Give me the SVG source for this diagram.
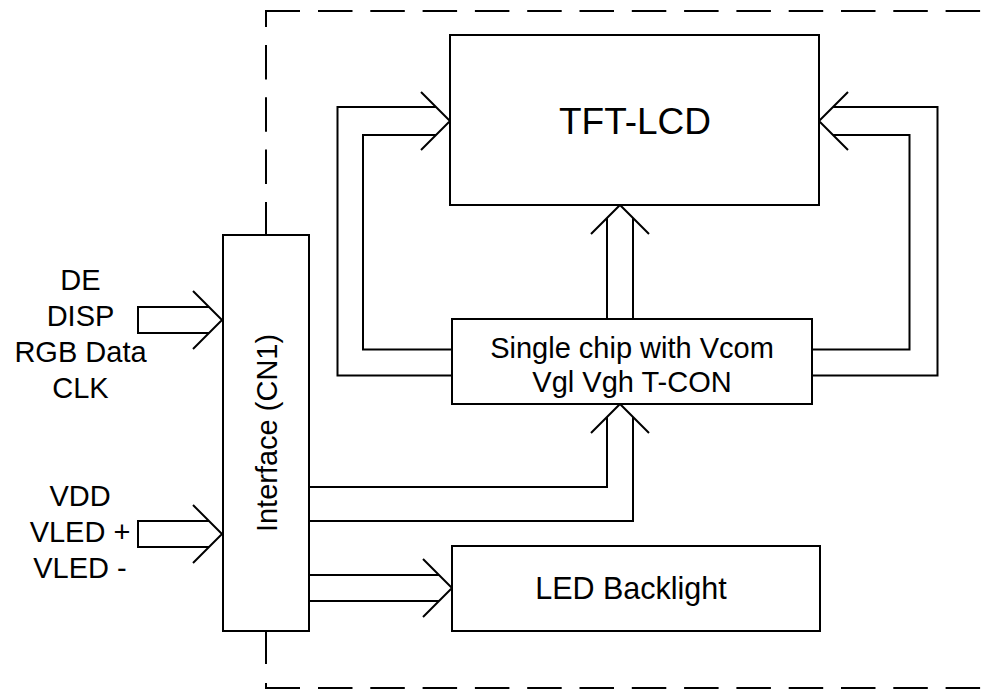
<svg xmlns="http://www.w3.org/2000/svg" width="986" height="690" viewBox="0 0 986 690">
<style>
.ln{fill:none;stroke:#000;stroke-width:2;stroke-linejoin:miter}
.box{fill:#fff;stroke:#000;stroke-width:2}
.dash{fill:none;stroke:#000;stroke-width:2;stroke-dasharray:34.5 17.8}
text{font-family:"Liberation Sans",Arial,sans-serif;fill:#000;text-anchor:middle}
.t{font-size:29px}
.big{font-size:37px}
</style>
<rect width="986" height="690" fill="#fff"/>
<g id="border">
<path class="ln" d="M266 27 V11 H300"/>
<line class="dash" x1="318" y1="11" x2="990" y2="11"/>
<line class="dash" x1="266" y1="45" x2="266" y2="236"/>
<line class="ln" x1="266" y1="631" x2="266" y2="664"/>
<path class="ln" d="M266 683 V688 H300"/>
<line class="dash" x1="318" y1="688" x2="990" y2="688"/>
</g>
<g id="connectors">
<path class="ln" d="M209 307 H138 V333 H209"/>
<path class="ln" d="M193 291 L222 320 L193 349"/>
<path class="ln" d="M209 521 H138 V547 H209"/>
<path class="ln" d="M193 505 L222 534 L193 563"/>
<path class="ln" d="M452 375.5 H337.5 V107 H436"/>
<path class="ln" d="M452 349.5 H363 V135 H436"/>
<path class="ln" d="M421 92 L450 121 L421 150"/>
<path class="ln" d="M812 375.5 H937.5 V107 H833"/>
<path class="ln" d="M812 349.5 H909.5 V135 H833"/>
<path class="ln" d="M848 92 L819 121 L848 150"/>
<path class="ln" d="M607 319 V218"/>
<path class="ln" d="M633 319 V218"/>
<path class="ln" d="M591 234 L620 205 L649 234"/>
<path class="ln" d="M309 487 H607 V417"/>
<path class="ln" d="M309 521 H633 V417"/>
<path class="ln" d="M591 433 L620 404 L649 433"/>
<path class="ln" d="M309 575 H439"/>
<path class="ln" d="M309 601 H439"/>
<path class="ln" d="M423 559 L452 588 L423 617"/>
</g>
<g id="tft">
<rect class="box" x="450" y="35" width="369" height="170" fill="none"/>
<text class="big" x="635" y="134">TFT-LCD</text>
</g>
<g id="chip">
<rect class="box" x="452" y="319" width="360" height="85"/>
<text class="t" x="632" y="358">Single chip with Vcom</text>
<text class="t" x="632" y="392">Vgl Vgh T-CON</text>
</g>
<g id="led">
<rect class="box" x="452" y="546" width="368" height="85"/>
<text class="t" x="631" y="599" style="font-size:30.5px">LED Backlight</text>
</g>
<g id="interface">
<rect class="box" x="223" y="235" width="86" height="396"/>
<text class="t" transform="translate(276.5,433) rotate(-90)">Interface (CN1)</text>
</g>
<g id="labels">
<text class="t" x="80.5" y="290">DE</text>
<text class="t" x="80.5" y="326">DISP</text>
<text class="t" x="80.5" y="362">RGB Data</text>
<text class="t" x="80.5" y="398">CLK</text>
<text class="t" x="80" y="506">VDD</text>
<text class="t" x="80" y="542">VLED +</text>
<text class="t" x="80" y="578">VLED -</text>
</g>
</svg>
